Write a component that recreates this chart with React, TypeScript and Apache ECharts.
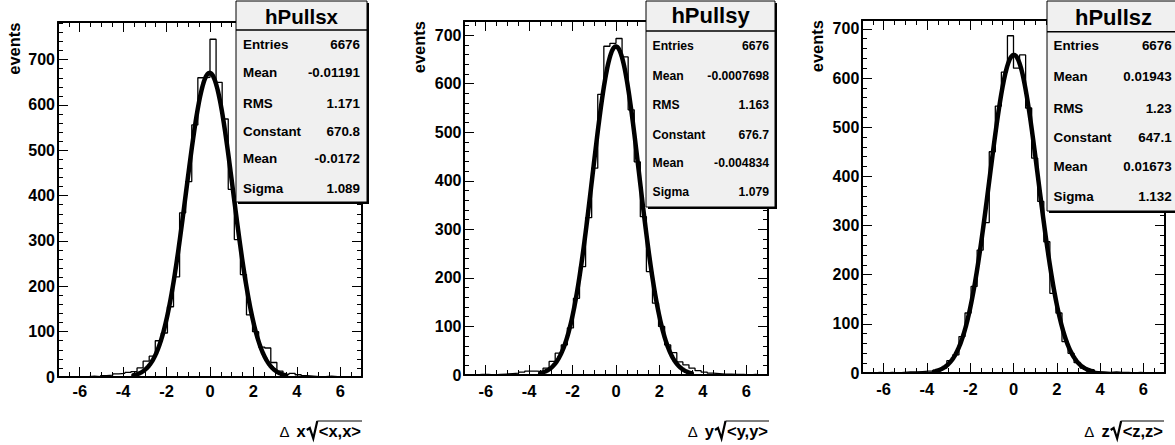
import React, { useEffect, useRef } from "react";
import * as echarts from "echarts";

// ---- data ----
const X_MIN = -7;
const X_MAX = 7;
const N_BINS = 50;

const countsX = [0, 0, 1, 0, 1, 2, 1, 3, 4, 7, 8, 10, 12, 20, 35, 46, 80, 97, 155, 221, 362, 431, 556, 660, 661, 745, 650, 569, 414, 303, 226, 137, 100, 66, 64, 32, 13, 6, 8, 5, 3, 2, 1, 1, 2, 1, 0, 1, 0, 0];
const countsY = [0, 0, 1, 1, 0, 1, 2, 3, 4, 6, 8, 8, 7, 14, 28, 45, 62, 97, 158, 223, 324, 426, 578, 677, 683, 693, 655, 546, 439, 326, 213, 148, 100, 62, 46, 27, 21, 14, 9, 6, 4, 3, 2, 2, 1, 1, 0, 1, 0, 0];
const countsZ = [0, 0, 1, 0, 1, 0, 1, 2, 2, 3, 4, 4, 5, 10, 25, 37, 74, 122, 176, 250, 306, 450, 543, 612, 686, 620, 647, 539, 437, 349, 267, 162, 122, 64, 40, 21, 10, 4, 3, 2, 1, 2, 1, 1, 0, 1, 0, 0, 0, 0];

const histTitles = ["hPullsx", "hPullsy", "hPullsz"];
const statLabels = ["Entries", "Mean", "RMS", "Constant", "Mean", "Sigma"];
const statValuesX = ["6676", "-0.01191", "1.171", "670.8", "-0.0172", "1.089"];
const statValuesY = ["6676", "-0.0007698", "1.163", "676.7", "-0.004834", "1.079"];
const statValuesZ = ["6676", "0.01943", "1.23", "647.1", "0.01673", "1.132"];

const fitConstants = [670.8, 676.7, 647.1];
const fitMeans = [-0.0172, -0.004834, 0.01673];
const fitSigmas = [1.089, 1.079, 1.132];
const histMeans = [-0.01191, -0.0007698, 0.01943];
const histRms = [1.171, 1.163, 1.23];

const coordNames = ["x", "y", "z"];
const yTitle = "events";
const yMaxes = [783, 729, 718];

// ---- layout (positions / styles) ----
const FONT = '"Liberation Sans", Arial, Helvetica, sans-serif';
const layout = [
  {
    grid: { left: 58, top: 22, width: 304, height: 355 },
    yLabelMargin: 3, xLabelMargin: 5, eventsX: 13.5, eventsTop: 22.5, xTitleRight: 361,
    box: { x: 236, y: 1, w: 131, h: 201, sep: 30, titleY: 16, titleSize: 20.5, rows: [44.3, 72.3, 103.3, 131, 158.3, 188.3], labelX: 243, valueX: 360, font: 13.4 },
  },
  {
    grid: { left: 464, top: 21, width: 304, height: 354 },
    yLabelMargin: 2.5, xLabelMargin: 7, eventsX: 418.5, eventsTop: 21, xTitleRight: 768,
    box: { x: 646, y: 1, w: 129, h: 206, sep: 31, titleY: 15.5, titleSize: 22, rows: [45.7, 76, 105, 135, 163.3, 192.3], labelX: 652.5, valueX: 769, font: 12.2 },
  },
  {
    grid: { left: 862, top: 20, width: 303, height: 353 },
    yLabelMargin: 2.7, xLabelMargin: 7, eventsX: 816.5, eventsTop: 20, xTitleRight: 1163,
    box: { x: 1047, y: 1, w: 133, h: 210, sep: 31.7, titleY: 17, titleSize: 22, rows: [45, 76.7, 108.3, 137.7, 166.7, 196.7], labelX: 1053.5, valueX: 1171.7, font: 13.4 },
  },
];

const allCounts = [countsX, countsY, countsZ];
const allStats = [statValuesX, statValuesY, statValuesZ];

function measure(text: string, font: string): number {
  const c = document.createElement("canvas").getContext("2d");
  if (!c) return text.length * 8;
  c.font = font;
  return c.measureText(text).width;
}

function histData(counts: number[]) {
  const bw = (X_MAX - X_MIN) / N_BINS;
  const d: number[][] = counts.map((v, k) => [X_MIN + k * bw, v]);
  d.push([X_MAX, counts[counts.length - 1]]);
  return d;
}

function fitData(i: number) {
  const lo = histMeans[i] - 3 * histRms[i];
  const hi = histMeans[i] + 3 * histRms[i];
  const n = 240;
  const d: number[][] = [];
  for (let k = 0; k <= n; k++) {
    const x = lo + ((hi - lo) * k) / n;
    const z = (x - fitMeans[i]) / fitSigmas[i];
    d.push([x, fitConstants[i] * Math.exp(-0.5 * z * z)]);
  }
  return d;
}

function buildGraphics() {
  const els: any[] = [];
  layout.forEach((L, i) => {
    const b = L.box;
    // stats box
    els.push({ type: "rect", z: 100, shape: { x: b.x + 2, y: b.y + 2, width: b.w, height: b.h }, style: { fill: "#000" } });
    els.push({ type: "rect", z: 101, shape: { x: b.x, y: b.y, width: b.w, height: b.h }, style: { fill: "#f0f0f0", stroke: "#000", lineWidth: 1 } });
    els.push({ type: "line", z: 102, shape: { x1: b.x, y1: b.sep, x2: b.x + b.w, y2: b.sep }, style: { stroke: "#000", lineWidth: 1.5 } });
    els.push({
      type: "text", z: 102, x: b.x + b.w / 2, y: b.titleY,
      style: { text: histTitles[i], fontFamily: FONT, fontWeight: "bold", fontSize: b.titleSize, fill: "#000", align: "center", verticalAlign: "middle" },
    });
    statLabels.forEach((lab, k) => {
      els.push({
        type: "text", z: 102, x: b.labelX, y: b.rows[k],
        style: { text: lab, fontFamily: FONT, fontWeight: "bold", fontSize: b.font, fill: "#000", align: "left", verticalAlign: "middle" },
      });
      els.push({
        type: "text", z: 102, x: b.valueX, y: b.rows[k],
        style: { text: allStats[i][k], fontFamily: FONT, fontWeight: "bold", fontSize: b.font, fill: "#000", align: "right", verticalAlign: "middle" },
      });
    });
    // y title
    els.push({
      type: "text", z: 50, x: L.eventsX, y: L.eventsTop, rotation: Math.PI / 2,
      style: { text: yTitle, fontFamily: FONT, fontWeight: "bold", fontSize: 16.5, fill: "#000", align: "right", verticalAlign: "middle" },
    });
    // x title: Δ c √<c,c>
    const c = coordNames[i];
    const r = L.xTitleRight;
    const ty = 431;
    const inner = "<" + c + "," + c + ">";
    const boldFont = "bold 16.5px " + FONT;
    const wInner = measure(inner, boldFont);
    const left1 = r - wInner;
    els.push({
      type: "text", z: 50, x: r, y: ty,
      style: { text: inner, fontFamily: FONT, fontWeight: "bold", fontSize: 16.5, fill: "#000", align: "right", verticalAlign: "middle" },
    });
    els.push({ type: "line", z: 50, shape: { x1: left1 - 1.5, y1: 421, x2: r + 1, y2: 421 }, style: { stroke: "#000", lineWidth: 1.2 } });
    els.push({
      type: "polyline", z: 50,
      shape: { points: [[left1 - 12, 430], [left1 - 9, 428], [left1 - 5.5, 438.5], [left1 - 1.5, 421]] },
      style: { stroke: "#000", lineWidth: 2.2, fill: "none" },
    });
    const xRight = left1 - 13;
    const wC = measure(c, boldFont);
    els.push({
      type: "text", z: 50, x: xRight, y: ty,
      style: { text: c, fontFamily: FONT, fontWeight: "bold", fontSize: 16.5, fill: "#000", align: "right", verticalAlign: "middle" },
    });
    els.push({
      type: "text", z: 50, x: xRight - wC - 7, y: ty,
      style: { text: "Δ", fontFamily: FONT, fontWeight: "normal", fontSize: 15, fill: "#000", align: "right", verticalAlign: "middle" },
    });
  });
  return els;
}

function buildOption() {
  const grids: any[] = [];
  const xAxes: any[] = [];
  const yAxes: any[] = [];
  const series: any[] = [];
  const axisLine = { show: true, onZero: false, lineStyle: { color: "#000", width: 2 } };
  layout.forEach((L, i) => {
    grids.push({ ...L.grid, containLabel: false });
    const xBase = (pos: string, showLabel: boolean) => ({
      type: "value", gridIndex: i, min: X_MIN, max: X_MAX, splitNumber: 7, position: pos,
      axisLine, splitLine: { show: false },
      axisTick: { show: true, inside: true, length: 10, lineStyle: { color: "#000", width: 1 } },
      minorTick: { show: true, splitNumber: 4, length: 5, lineStyle: { color: "#000", width: 1 } },
      axisLabel: {
        show: showLabel, margin: L.xLabelMargin, fontFamily: FONT, fontWeight: "bold", fontSize: 16.5, color: "#000",
        showMinLabel: false, showMaxLabel: false,
        formatter: (v: number) => (Math.abs(v % 2) < 1e-9 ? String(Math.round(v)) : ""),
      },
    });
    xAxes.push(xBase("bottom", true));
    xAxes.push(xBase("top", false));
    const yBase = (pos: string, showLabel: boolean) => ({
      type: "value", gridIndex: i, min: 0, max: yMaxes[i], interval: 100, position: pos,
      axisLine, splitLine: { show: false },
      axisTick: { show: true, inside: true, length: 10, lineStyle: { color: "#000", width: 1 } },
      minorTick: { show: true, splitNumber: 5, length: 5, lineStyle: { color: "#000", width: 1 } },
      axisLabel: {
        show: showLabel, margin: L.yLabelMargin, fontFamily: FONT, fontWeight: "bold", fontSize: 16, color: "#000",
        showMaxLabel: false,
        formatter: (v: number) => (Math.abs(v % 100) < 1e-9 ? String(Math.round(v)) : ""),
      },
    });
    yAxes.push(yBase("left", true));
    yAxes.push(yBase("right", false));
    series.push({
      type: "line", name: histTitles[i], xAxisIndex: i * 2, yAxisIndex: i * 2, step: "end",
      data: histData(allCounts[i]), symbol: "none", showSymbol: false, clip: true,
      lineStyle: { color: "#000", width: 1.3 }, z: 2, silent: true,
    });
    series.push({
      type: "line", name: histTitles[i] + " fit", xAxisIndex: i * 2, yAxisIndex: i * 2,
      data: fitData(i), symbol: "none", showSymbol: false, smooth: false, clip: true,
      lineStyle: { color: "#000", width: 4.5, cap: "round", join: "round" }, z: 3, silent: true,
    });
  });
  return {
    animation: false,
    backgroundColor: "#ffffff",
    textStyle: { fontFamily: FONT },
    grid: grids,
    xAxis: xAxes,
    yAxis: yAxes,
    series,
    graphic: { elements: buildGraphics() },
  };
}

export default function App() {
  const ref = useRef<HTMLDivElement>(null);
  useEffect(() => {
    if (!ref.current) return;
    const chart = echarts.init(ref.current, undefined, { renderer: "svg" });
    chart.setOption(buildOption() as any);
    return () => chart.dispose();
  }, []);
  return (
    <div
      ref={ref}
      style={{ position: "fixed", left: 0, top: 0, width: 1175, height: 445, background: "#fff" }}
    />
  );
}
